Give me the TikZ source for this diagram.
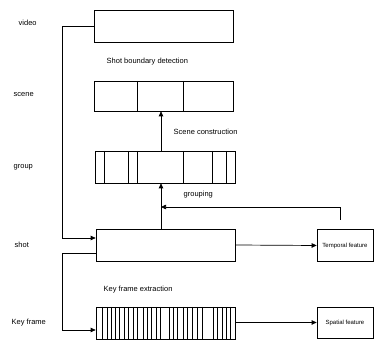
\documentclass[tikz,border=0pt]{standalone}
\usepackage{fontspec}
\setmainfont{Liberation Sans}
\usetikzlibrary{arrows.meta, positioning, calc}

\tikzset{
  strip/.style={draw, minimum width=139pt, minimum height=32pt, inner sep=0pt},
  feature/.style={draw, minimum width=56pt, minimum height=32pt, inner sep=1pt, font=\fontsize{6}{7}\selectfont},
  level/.style={anchor=west, font=\fontsize{7.5}{9}\selectfont},
  step label/.style={anchor=west, font=\fontsize{7.5}{9}\selectfont}
}

\begin{document}
\begin{tikzpicture}[x=1pt, y=-1pt, line width=0.7pt, >={Triangle[length=5pt,width=4.5pt]}]
  \useasboundingbox (0,0) rectangle (384,347);

  % level names
  \node[level] (lvideo) at (15,23) {video};
  \node[level] (lscene) at (10,95) {scene};
  \node[level] (lgroup) at (10,167) {group};
  \node[level] (lshot) at (11,245) {shot};
  \node[level] (lkey) at (8,323) {Key frame};

  % boxes
  \node[strip] (video) at (163.5,26) {};
  \node[strip, minimum height=30pt] (scene) at (163.5,96) {};
  \node[strip, minimum width=140pt] (group) at (165,167) {};
  \node[strip] (shot) at (165.5,245) {};
  \node[strip] (keyframe) at (165.5,323) {};
  \node[feature] (temporal) at (345,245.5) {Temporal feature};
  \node[feature, minimum height=31pt] (spatial) at (345,322.5) {Spatial feature};

  % dividers
  \foreach \x in {137,183}
    \draw (\x,81) -- (\x,111);
  \foreach \x in {104,128,137,183,212,226}
    \draw (\x,151) -- (\x,183);
  \foreach \x in {102,107,111,115,119,124,128,133,137,143,147,151,156,160,169,173,177,183,187,192,197,202,213,217,222,226,230}
    \draw[line width=0.5pt] (\x,307) -- (\x,339);

  % step names
  \node[step label] (boundary) at (103,62) {Shot boundary detection};
  \node[step label] (construct) at (170,132) {Scene construction};
  \node[step label] (grouping) at (180,195) {grouping};
  \node[step label] (extract) at (100,290) {Key frame extraction};

  % connectors
  \coordinate (bus) at (62,0);
  \coordinate (axis) at (161,0);
  \coordinate (fb) at (340,207);
  \coordinate (fbstart) at (340,220);
  \draw[->] (video.west) -- (video.west -| bus) |- ([yshift=7pt]shot.west);
  \draw[->] ([yshift=-8pt]shot.west) -- ([yshift=-8pt]shot.west -| bus) |- ([yshift=-7pt]keyframe.west);
  \draw[->] (shot.north -| axis) -- (group.south -| axis);
  \draw[->] (group.north -| axis) -- (scene.south -| axis);
  \draw[->] (fbstart) -- (fb) -- (fb -| axis);
  \draw[->] (shot.east) -- (temporal.west);
  \draw[->] (keyframe.east |- spatial.west) -- (spatial.west);
\end{tikzpicture}
\end{document}
